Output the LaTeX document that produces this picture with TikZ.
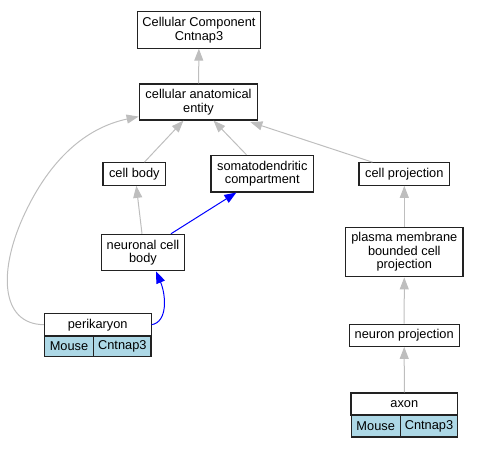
\documentclass[tikz,border=0pt]{standalone}
\usepackage{fontspec}
\setmainfont{Liberation Sans}
\usetikzlibrary{arrows.meta,calc}
\definecolor{edgegray}{HTML}{BEBEBE}
\definecolor{lblue}{HTML}{ADD8E6}
\definecolor{bord}{HTML}{222222}
\begin{document}
\begin{tikzpicture}[x=1pt,y=-1pt,
  every node/.style={font=\fontsize{12.8}{13.4}\selectfont},
  box/.style 2 args={draw=bord,line width=1.1pt,fill=white,inner sep=0pt,align=center,minimum width=#1,minimum height=#2},
  cell/.style 2 args={box={#1}{#2},fill=lblue},
  isa/.style={draw=edgegray,line width=1pt,-{Triangle[length=12pt,width=9pt]}},
  part/.style={draw=blue,line width=1pt,-{Triangle[length=12pt,width=9pt]}}]
\useasboundingbox (0,0) rectangle (479,448);
\node[box={122.6}{36.3}] (top) at (199,30) {Cellular Component\\Cntnap3};
\node[box={118.7}{36}] (cae) at (198.5,102) {cellular anatomical\\entity};
\node[box={62.7}{22.6}] (cb) at (134.3,174) {cell body};
\node[box={102.7}{36.7}] (sd) at (262.3,173.6) {somatodendritic\\compartment};
\node[box={90.7}{22.6}] (cp) at (404.3,174) {cell projection};
\node[box={82.6}{36.4}] (ncb) at (143,252.5) {neuronal cell\\body};
\node[box={117.3}{49.7}] (pm) at (404.3,252) {plasma membrane\\bounded cell\\projection};
\node[box={106.7}{22.7}] (peri) at (97.7,324.7) {perikaryon};
\node[cell={49.4}{20.7}] (pm1) at (69,346.3) {Mouse};
\node[cell={57.3}{20.7}] (pm2) at (122.3,346.3) {Cntnap3};
\node[box={109.7}{22.3}] (np) at (404.2,335.2) {neuron projection};
\node[box={106.7}{22}] (axon) at (404.3,404) {axon};
\node[cell={49.3}{22}] (ax1) at (375.7,426) {Mouse};
\node[cell={57.4}{22}] (ax2) at (429,426) {Cntnap3};
\coordinate (caeL) at ($(cae.south west)+(0,-4)$);
\draw[isa] (cae) -- (top);
\draw[isa] ($(cb.north west)+(42,0)$) -- ($(cae.south)+(-15,0)$);
\draw[isa] ($(sd.north west)+(36,0)$) -- ($(cae.south)+(15,0)$);
\draw[isa] ($(cp.north west)+(14,0)$) -- ($(cae.south east)+(-8,1.5)$);
\draw[isa] (peri.west) .. controls (0,324) and (-2,270) .. (25,213) .. controls (50,160) and (85,128) .. (caeL);
\draw[isa] ($(ncb.north)+(-1,0)$) -- ($(cb.south)+(2,0)$);
\draw[part] ($(ncb.north)+(28,0)$) -- ($(sd.south west)+(26,0)$);
\draw[part] (peri.east) .. controls (168,322) and (166,295) .. ($(ncb.south)+(13,0)$);
\draw[isa] (pm) -- (cp);
\draw[isa] (np) -- (pm);
\draw[isa] (axon) -- (np);
\end{tikzpicture}
\end{document}
